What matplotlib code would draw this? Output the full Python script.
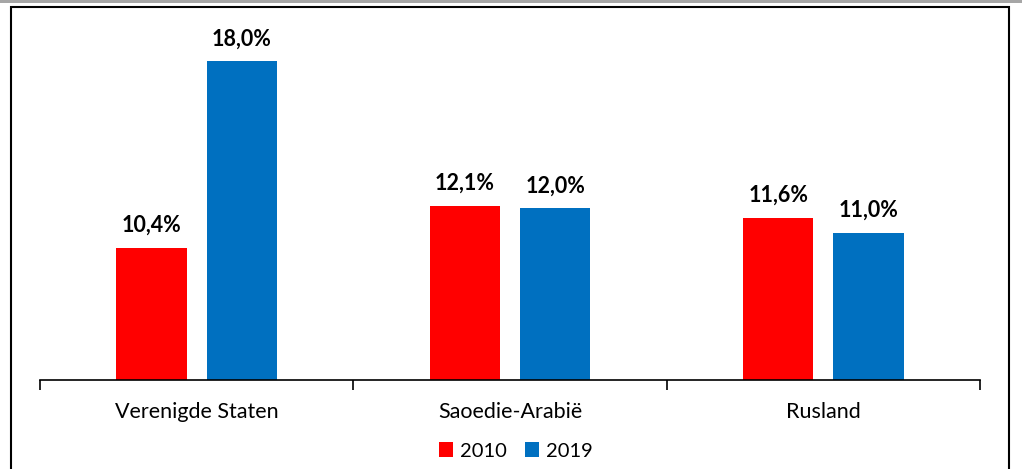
import matplotlib
matplotlib.use("Agg")
import matplotlib.pyplot as plt
from matplotlib.patches import Rectangle
import numpy as np

landen = ["Verenigde Staten", "Saoedie-Arabië", "Rusland"]
jaren = ["2010", "2019"]
aandeel_2010 = [10.4, 12.1, 11.6]
aandeel_2019 = [18.0, 12.0, 11.0]

kleuren = ["#FF0000", "#0070C0"]

plt.rcParams["font.family"] = ["Lato", "DejaVu Sans"]

fig = plt.figure(figsize=(10.22, 4.69), dpi=100)
W, H = 1022, 469

# grijze balk bovenaan en zwart kader rond de grafiek
fig.patches.append(Rectangle((0, 1 - 3.5 / H), 1, 3.5 / H, transform=fig.transFigure,
                             facecolor="#a6a6a6", edgecolor="none"))
fig.patches.append(Rectangle((11 / W, -0.05), (1009 - 11) / W, 1.05 - 7 / H,
                             transform=fig.transFigure, facecolor="none",
                             edgecolor="black", linewidth=1.5))

ax = fig.add_axes([40 / W, 1 - 380 / H, (980 - 40) / W, (380 - 12.5) / H])

x = np.arange(len(landen))
breedte = 0.224
afstand = 0.064
reeksen = [aandeel_2010, aandeel_2019]
for i, (jaar, waarden) in enumerate(zip(jaren, reeksen)):
    pos = x + (i - 0.5) * (breedte + afstand)
    ax.bar(pos, np.array(waarden) - 5, bottom=5, width=breedte,
           color=kleuren[i], label=jaar)
    for xp, v in zip(pos, waarden):
        ax.text(xp, v + 0.5, f"{v:.1f}%".replace(".", ","), ha="center",
                va="bottom", fontsize=15.5, fontweight="bold")

ax.set_ylim(5, 20)
ax.set_xlim(-0.5, 2.5)
ax.set_yticks([])
ax.set_xticks([-0.5, 0.5, 1.5, 2.5], minor=False)
ax.set_xticklabels([])
ax.set_xticks(x, minor=True)
ax.set_xticklabels(landen, minor=True, fontsize=15.5)
ax.tick_params(axis="x", which="major", length=7, width=1.2, direction="out")
ax.tick_params(axis="x", which="minor", length=0, pad=16)
for s in ["top", "left", "right"]:
    ax.spines[s].set_visible(False)
ax.spines["bottom"].set_linewidth(1.2)

fig.legend(loc="center", bbox_to_anchor=(516 / W, 1 - 451 / H), ncol=2,
           frameon=False, fontsize=14.5, handlelength=0.7, handleheight=0.7,
           handletextpad=0.35, columnspacing=0.9)

fig.savefig("out.png", dpi=100)
